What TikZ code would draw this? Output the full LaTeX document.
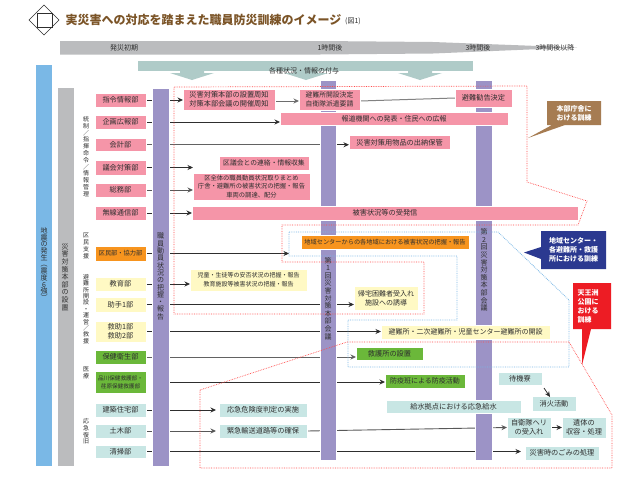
\documentclass[tikz,border=0pt]{standalone}
\usepackage{fontspec}
\setmainfont{Noto Sans CJK JP}
\usetikzlibrary{arrows.meta}
\definecolor{cpink}{HTML}{F595A8}
\definecolor{cgray}{HTML}{BBBCBE}
\definecolor{cblue}{HTML}{7AB8E6}
\definecolor{cpurple}{HTML}{9C93C6}
\definecolor{corange}{HTML}{F7941E}
\definecolor{cyellow}{HTML}{FFF9C4}
\definecolor{cgreen}{HTML}{6BB83A}
\definecolor{cteal}{HTML}{C8E6E4}
\definecolor{ctop}{HTML}{AFCBC8}
\definecolor{cbrown}{HTML}{A67C52}
\definecolor{cnavy}{HTML}{2B3990}
\definecolor{cred}{HTML}{ED1C24}
\definecolor{ctitle}{HTML}{7B5427}
\definecolor{ctext}{HTML}{2E2E2E}
\pgfdeclarelayer{lines}
\pgfdeclarelayer{bars}
\pgfsetlayers{lines,bars,main}
\def\vsloop#1{\ifx#1\relax\else\hbox to 12pt{\hss#1\hss}\expandafter\vsloop\fi}
\newcommand{\vst}[2]{\vbox{\baselineskip=#1pt\lineskiplimit=-100pt\relax\vsloop#2\relax}}
\newcommand{\bx}[7]{\node[#2,minimum width={#5-#3},minimum height={#6-#4}] (#1) at ({(#3+#5)/2},{(#4+#6)/2}) {#7};}
\tikzset{
 x=1pt,y=-1pt,
 fs/.style 2 args={font=\fontsize{#1}{#2}\selectfont},
 bxbase/.style={inner sep=0pt,outer sep=0pt,align=center,text=ctext,fs={7.2}{9}},
 pinkb/.style={bxbase,fill=cpink,draw=white,line width=.4pt},
 orangeb/.style={bxbase,fill=corange,draw=white,line width=.4pt},
 yellowb/.style={bxbase,fill=cyellow,draw=white,line width=.4pt},
 greenb/.style={bxbase,fill=cgreen,draw=white,line width=.4pt},
 tealb/.style={bxbase,fill=cteal,draw=white,line width=.4pt},
 barb/.style={inner sep=0pt,outer sep=0pt,fill=#1,draw=white,line width=.4pt},
 lab/.style={inner sep=0pt,outer sep=0pt,text=ctext,align=center,fs={7}{9}},
 vlab/.style={inner sep=0pt,outer sep=0pt,text=ctext,fs={7}{8}},
 catlab/.style={inner sep=0pt,outer sep=0pt,text=ctext,fs={6}{7}},
 calltext/.style={inner sep=0pt,outer sep=0pt,text=white,align=center,font=\fontsize{7}{9}\bfseries\selectfont},
 ar/.style={draw=ctext,line width=.8pt,-{Stealth[length=5.5pt,width=5pt]}},
 ln/.style={draw=ctext!85,line width=.8pt},
 rdot/.style={draw=red!70,densely dotted,line width=.7pt},
 bdot/.style={draw=cblue,densely dotted,line width=.8pt},
}
\begin{document}
\begin{tikzpicture}
\useasboundingbox (0,0) rectangle (640,480);
\begin{pgfonlayer}{lines}
\fill[white] (0,0) rectangle (640,480);
\end{pgfonlayer}
% title
\draw[ctext,line width=.5pt] (29,20) -- (44,5) -- (59,20) -- (44,35) -- cycle;
\draw[ctext,line width=.5pt] (37,13) rectangle (52,27);
\node[inner sep=0pt,anchor=west,text=ctitle,font=\fontsize{12}{14}\bfseries\selectfont] (title) at (65.5,20) {実災害への対応を踏まえた職員防災訓練のイメージ};
\node[inner sep=0pt,anchor=west,text=ctext,fs={7}{8}] (fig) at (345,21.5) {(図1)};
% timeline
\fill[cgray] (60,41) -- (320,41) -- (433,42) -- (577,47.5) -- (433,53.5) -- (320,54.5) -- (60,54.5) -- cycle;
\node[lab] (t0) at (124,47.5) {発災初期};
\node[lab] (t1) at (330,47.5) {1時間後};
\node[lab] (t3) at (478,47.5) {3時間後};
\node[lab] (t4) at (555,47.5) {3時間後以降};
% info bar
\fill[ctop] (138,60.5) rectangle (473,71);
\foreach \c in {192,306,420}{
 \fill[ctop] (\c-12,71) -- (\c+12,71) -- (\c+12,73) -- (\c+22,73) -- (\c,80) -- (\c-22,73) -- (\c-12,73) -- cycle;
}
\node[lab] (info) at (304,71) {各種状況・情報の付与};
% bars
\begin{pgfonlayer}{bars}
\bx{barb1}{barb=cblue}{35}{64}{52.5}{466.5}{}
\bx{barb2}{barb=cgray}{57}{87.5}{74}{466.5}{}
\bx{pur1}{barb=cpurple}{152}{88}{169}{466.5}{}
\bx{pur2}{barb=cpurple}{320}{80}{336}{460}{}
\bx{pur3}{barb=cpurple}{475}{80}{492}{460}{}
\end{pgfonlayer}
\node[vlab] (v1) at (44,264) {\vst{6.7}{地震の発生︵震度6強︶}};
\node[vlab] (v2) at (65,277) {\vst{7.6}{災害対策本部の設置}};
\node[vlab] (v3) at (160.5,276.5) {\vst{7.3}{職員動員状況の把握・報告}};
\node[vlab] (v4) at (328,298.5) {\vst{7.6}{第1回災害対策本部会議}};
\node[vlab] (v5) at (484,270) {\vst{7.6}{第2回災害対策本部会議}};
% category labels
\node[catlab] (c1) at (86,156.5) {\vst{6.8}{統制／指揮命令／情報管理}};
\node[catlab] (c2) at (86,246) {\vst{6.8}{区民支援}};
\node[catlab] (c3) at (86,309) {\vst{6.4}{避難所開設・運営／救援}};
\node[catlab] (c4) at (86,373) {\vst{6.8}{医療}};
\node[catlab] (c5) at (86,431.5) {\vst{6.8}{応急復旧}};
% dotted outlines
\draw[rdot] (174,87) -- (527,86) -- (527,182) -- (587,201) -- (578,225) -- (282,225) -- (282,262) -- (424,262) -- (424,314) -- (174,314) -- cycle;
\draw[bdot] (289,232) -- (498,232) -- (569,300) -- (569,367) -- (348,367) -- (348,320) -- (457,320) -- (457,256) -- (289,256) -- cycle;
\draw[rdot] (200,390) -- (347,342) -- (569,342) -- (612,415) -- (612,468) -- (200,468) -- cycle;
% departments
\bx{d1}{pinkb}{95}{93}{146}{107}{指令情報部}
\bx{d2}{pinkb}{95}{115}{146}{129}{企画広報部}
\bx{d3}{pinkb}{95}{138}{146}{151.5}{会計部}
\bx{d4}{pinkb}{95}{160}{146}{175}{議会対策部}
\bx{d5}{pinkb}{95}{183}{146}{197}{総務部}
\bx{d6}{pinkb}{95}{206}{146}{220}{無線通信部}
\bx{d7}{orangeb,fs={6.2}{8}}{95}{246}{146}{261}{区民部・協力部}
\bx{d8}{yellowb}{95}{277}{146}{291}{教育部}
\bx{d9}{yellowb}{95}{297}{146}{312}{助手1部}
\bx{d10}{yellowb,fs={7.2}{8.6}}{95}{321}{146}{342}{救助1部\\救助2部}
\bx{d11}{greenb}{95}{350}{146}{364}{保健衛生部}
\bx{d12}{greenb,fs={5.6}{8}}{95}{371}{146}{393}{品川保健救護部・\\荏原保健救護部}
\bx{d13}{tealb}{95}{403}{146}{417}{建築住宅部}
\bx{d14}{tealb}{95}{424}{146}{438}{土木部}
\bx{d15}{tealb}{95}{445}{146}{458}{清掃部}
% tasks
\bx{a1}{pinkb}{183}{89}{275}{110}{災害対策本部の設置周知\\対策本部会議の開催周知}
\bx{a2}{pinkb,fs={6.8}{8.5}}{299}{89}{360}{110}{避難所開設決定\\自衛隊派遣要請}
\bx{a3}{pinkb}{455}{89}{512}{107}{避難勧告決定}
\bx{a4}{pinkb,fs={7}{9}}{280}{112}{508}{125}{報道機関への発表・住民への広報}
\bx{a5}{pinkb}{349}{135.5}{450}{149.5}{災害対策用物品の出納保管}
\bx{a6}{pinkb,fs={6.8}{9}}{219}{156}{309}{170}{区議会との連絡・情報収集}
\bx{a7}{pinkb,fs={6.3}{8.6}}{193}{173}{310}{200}{区全体の職員動員状況取りまとめ\\庁舎・避難所の被害状況の把握・報告\\車両の調達、配分}
\bx{a8}{pinkb}{192}{206}{578}{220}{被害状況等の受発信}
\bx{a9}{orangeb,fs={6.2}{8}}{301}{235}{469}{249}{地域センターからの各地域における被害状況の把握・報告}
\bx{a10}{yellowb,fs={6}{9}}{190}{269}{307}{291}{児童・生徒等の安否状況の把握・報告\\教育施設等被害状況の把握・報告}
\bx{a11}{yellowb,fs={7}{9}}{354}{286}{418}{310}{帰宅困難者受入れ\\施設への誘導}
\bx{a12}{yellowb,fs={7}{9}}{381}{325}{550}{339}{避難所・二次避難所・児童センター避難所の開設}
\bx{a13}{greenb}{356}{347}{423}{360}{救護所の設置}
\bx{a14}{greenb,fs={7}{9}}{385}{374}{465}{388}{防疫班による防疫活動}
\bx{a15}{tealb}{219}{403}{307}{417}{応急危険度判定の実施}
\bx{a16}{tealb}{219}{424}{307}{438}{緊急輸送道路等の確保}
\bx{a17}{tealb}{507}{417}{551}{438}{自衛隊ヘリ\\の受入れ}
\bx{a18}{tealb}{562}{417}{606}{438}{遺体の\\収容・処理}
\bx{a19}{tealb}{525}{446}{599}{460}{災害時のごみの処理}
\bx{a20}{tealb}{498}{372}{542}{385}{待機寮}
\bx{a21}{tealb}{532}{396}{576}{411}{消火活動}
\bx{a22}{tealb}{386}{400}{521}{413}{給水拠点における応急給水}
% callouts
\fill[cbrown] (547,101) -- (601,101) -- (601,125) -- (565,125) -- (528,138) -- (552,125) -- (547,125) -- cycle;
\node[calltext] (k1) at (574,113) {本部庁舎に\\おける訓練};
\fill[cnavy] (541,231) -- (606,231) -- (606,269) -- (541,269) -- (541,259) -- (524,252.5) -- (541,247) -- cycle;
\node[calltext] (k2) at (573.5,250) {地域センター・\\各避難所・救護\\所における訓練};
\fill[cred] (573,283) -- (611,283) -- (611,329) -- (591,329) -- (582,365) -- (582,329) -- (573,329) -- cycle;
\node[calltext,align=left,anchor=west] (k3) at (577.5,306) {天王洲\\公園に\\おける\\訓練};
% connectors (run behind the bars)
\begin{pgfonlayer}{lines}
\draw[ar] (d1.east) -- (a1.west |- d1.east);
\draw[ar,draw=ctext!70,line width=1pt] ([yshift=-1.5pt]a1.east) -- ([yshift=-1.5pt]a2.west);
\draw[ln,draw=ctext!60,line width=1pt] ([yshift=-1.5pt]a2.east) -- (a3.west |- 0,98);
\draw[ar] (d2.east) -- (a4.west |- d2.east);
\draw[ln,draw=ctext!75,line width=1pt] (d3.east) -- (pur2.center |- d3.east);
\draw[ar] (pur2.east |- d3.east) -- (a5.west |- d3.east);
\draw[ar] (d4.east) -- (a7.west |- d4.east);
\draw[ar,draw=ctext!80,line width=.9pt] (d5.east) -- (a7.west |- d5.east);
\draw[ar] (d6.east) -- (a8.west |- d6.east);
\draw[ar] (d7.east) -- ([xshift=-12pt]a9.west |- d7.east);
\draw[ar] (d8.east) -- (a10.west |- d8.east);
\draw[ar] (d9.east) -- (a11.west |- d9.east);
\draw[ar] (d10.east) -- (a12.west |- d10.east);
\draw[ar,draw=ctext!75] (d11.east) -- (a13.west |- d11.east);
\draw[ar] (pur1.east |- d12.east) -- (a14.west |- d12.east);
\draw[ar] (d13.east) -- ([xshift=-3pt]a15.west |- d13.east);
\draw[ar,draw=ctext!80,line width=.9pt] (d14.east) -- ([xshift=-3pt]a16.west |- d14.east);
\draw[ar,draw=ctext!80,line width=.9pt] (a16.east) -- (a17.west);
\draw[ar] (a17.east) -- (a18.west);
\draw[ar] (d15.east) -- ([xshift=-4pt]a19.west |- d15.east);
\end{pgfonlayer}
\draw[ar] ([xshift=2pt,yshift=-3pt]a20.south east) -- ([xshift=-4pt,yshift=-1pt]a21.north);
\end{tikzpicture}
\end{document}
